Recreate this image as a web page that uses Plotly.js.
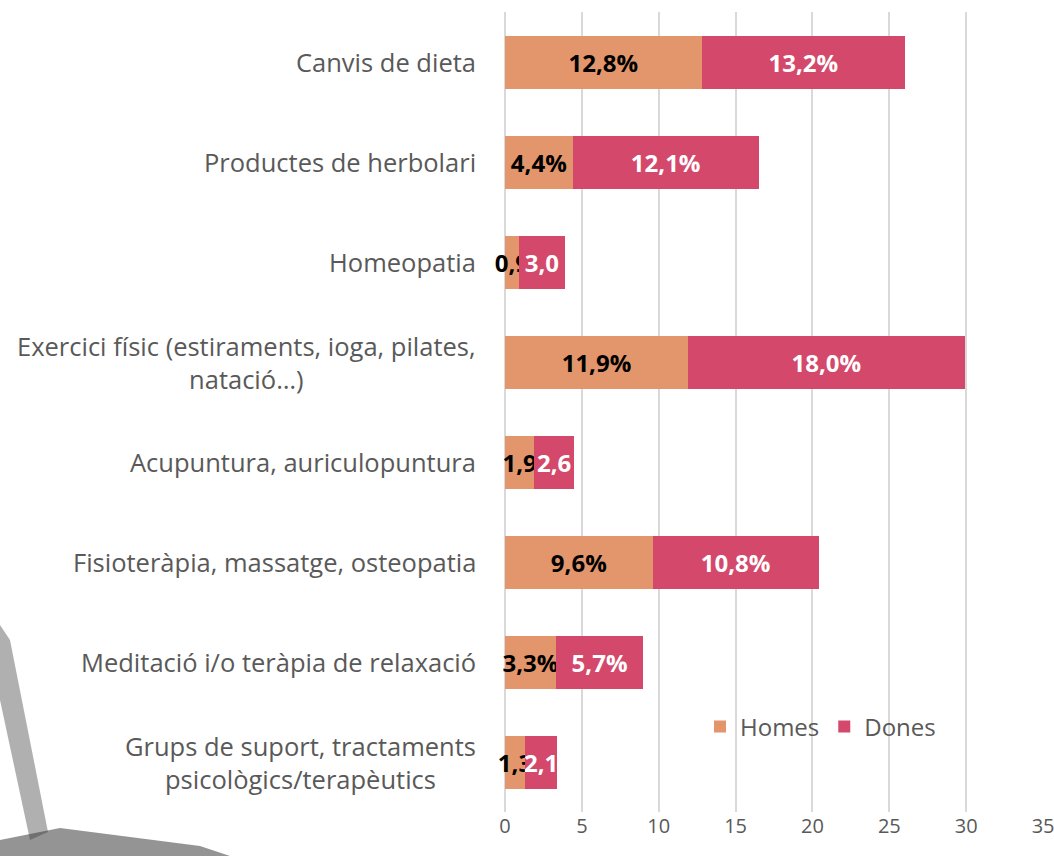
<!DOCTYPE html>
<html>
<head>
<meta charset="utf-8">
<script src="https://cdn.plot.ly/plotly-3.0.1.min.js"></script>
<style>
html,body{margin:0;padding:0;background:#ffffff;}
#chart{width:1054px;height:856px;}
</style>
</head>
<body>
<div id="chart"></div>
<script>
// ---- data ----
const categories = [
  "Canvis de dieta",
  "Productes de herbolari",
  "Homeopatia",
  "Exercici físic (estiraments, ioga, pilates,<br>natació…)",
  "Acupuntura, auriculopuntura",
  "Fisioteràpia, massatge, osteopatia",
  "Meditació i/o teràpia de relaxació",
  "Grups de suport, tractaments<br>psicològics/terapèutics"
];
const catKeys = ["c1","c2","c3","c4","c5","c6","c7","c8"];
const homes = [12.8, 4.4, 0.9, 11.9, 1.9, 9.6, 3.3, 1.3];
const dones = [13.2, 12.1, 3.0, 18.0, 2.6, 10.8, 5.7, 2.1];
const homesLabels = ["12,8%","4,4%","0,9","11,9%","1,9","9,6%","3,3%","1,3"];
const donesLabels = ["13,2%","12,1%","3,0","18,0%","2,6","10,8%","5,7%","2,1"];
const xTicks = [0,5,10,15,20,25,30,35];

// ---- geometry helpers (pixel -> paper) ----
const L = 505, R = 1044, T = 12, B = 812;
const px = x => (x - L) / (R - L);
const py = y => (B - y) / (B - T);

const traces = [
  {
    type: "bar", orientation: "h", name: "Homes",
    y: catKeys, x: homes, text: homesLabels,
    textposition: "inside", insidetextanchor: "middle", constraintext: "none", textangle: 0,
    textfont: {family: "Open Sans, sans-serif", size: 24, color: "#000000", weight: "bold"},
    marker: {color: "#E3966B"}, cliponaxis: false, hoverinfo: "skip"
  },
  {
    type: "bar", orientation: "h", name: "Dones",
    y: catKeys, x: dones, text: donesLabels,
    textposition: "inside", insidetextanchor: "middle", constraintext: "none", textangle: 0,
    textfont: {family: "Open Sans, sans-serif", size: 24, color: "#FFFFFF", weight: "bold"},
    marker: {color: "#D4486B"}, cliponaxis: false, hoverinfo: "skip"
  }
];

const annotations = categories.map((c, i) => ({
  xref: "paper", yref: "y", x: px(478), y: catKeys[i],
  xanchor: "right", yanchor: "middle", align: "center",
  text: c, showarrow: false,
  font: {family: "Open Sans, sans-serif", size: 25.5, color: "#595959"}
}));

const shapes = [
  {type: "path", xref: "paper", yref: "paper", layer: "below",
   path: `M ${px(0)} ${py(625)} L ${px(10)} ${py(640)} L ${px(48)} ${py(832)} L ${px(30)} ${py(840)} L ${px(0)} ${py(700)} Z`,
   fillcolor: "rgba(80,80,80,0.45)", line: {width: 0}},
  {type: "path", xref: "paper", yref: "paper", layer: "below",
   path: `M ${px(0)} ${py(840)} L ${px(60)} ${py(828)} L ${px(200)} ${py(846)} L ${px(230)} ${py(856)} L ${px(0)} ${py(856)} Z`,
   fillcolor: "rgba(60,60,60,0.55)", line: {width: 0}}
];

const layout = {
  width: 1054, height: 856,
  margin: {l: L, r: 1054 - R, t: T, b: 856 - B, pad: 0},
  paper_bgcolor: "#ffffff", plot_bgcolor: "rgba(0,0,0,0)",
  barmode: "stack", bargap: 0.47,
  showlegend: true,
  legend: {orientation: "h", x: px(700), y: py(727), xanchor: "left", yanchor: "middle",
           bgcolor: "rgba(0,0,0,0)", font: {family: "Open Sans, sans-serif", size: 24, color: "#595959"},
           traceorder: "normal", itemwidth: 30},
  xaxis: {range: [0, 35.06], tickvals: xTicks, ticktext: xTicks.map(String),
          showgrid: true, gridcolor: "#D9D9D9", gridwidth: 2,
          zeroline: true, zerolinecolor: "#D9D9D9", zerolinewidth: 2,
          showline: false, ticks: "", ticklen: 0, ticklabeloverflow: "allow",
          tickfont: {family: "Open Sans, sans-serif", size: 20, color: "#595959"}, fixedrange: true},
  yaxis: {type: "category", autorange: "reversed", showticklabels: false, showgrid: false,
          zeroline: false, showline: false, ticks: "", fixedrange: true},
  annotations: annotations,
  shapes: shapes,
  font: {family: "Open Sans, sans-serif"}
};

Plotly.newPlot("chart", traces, layout, {displayModeBar: false, staticPlot: true});
</script>
</body>
</html>
